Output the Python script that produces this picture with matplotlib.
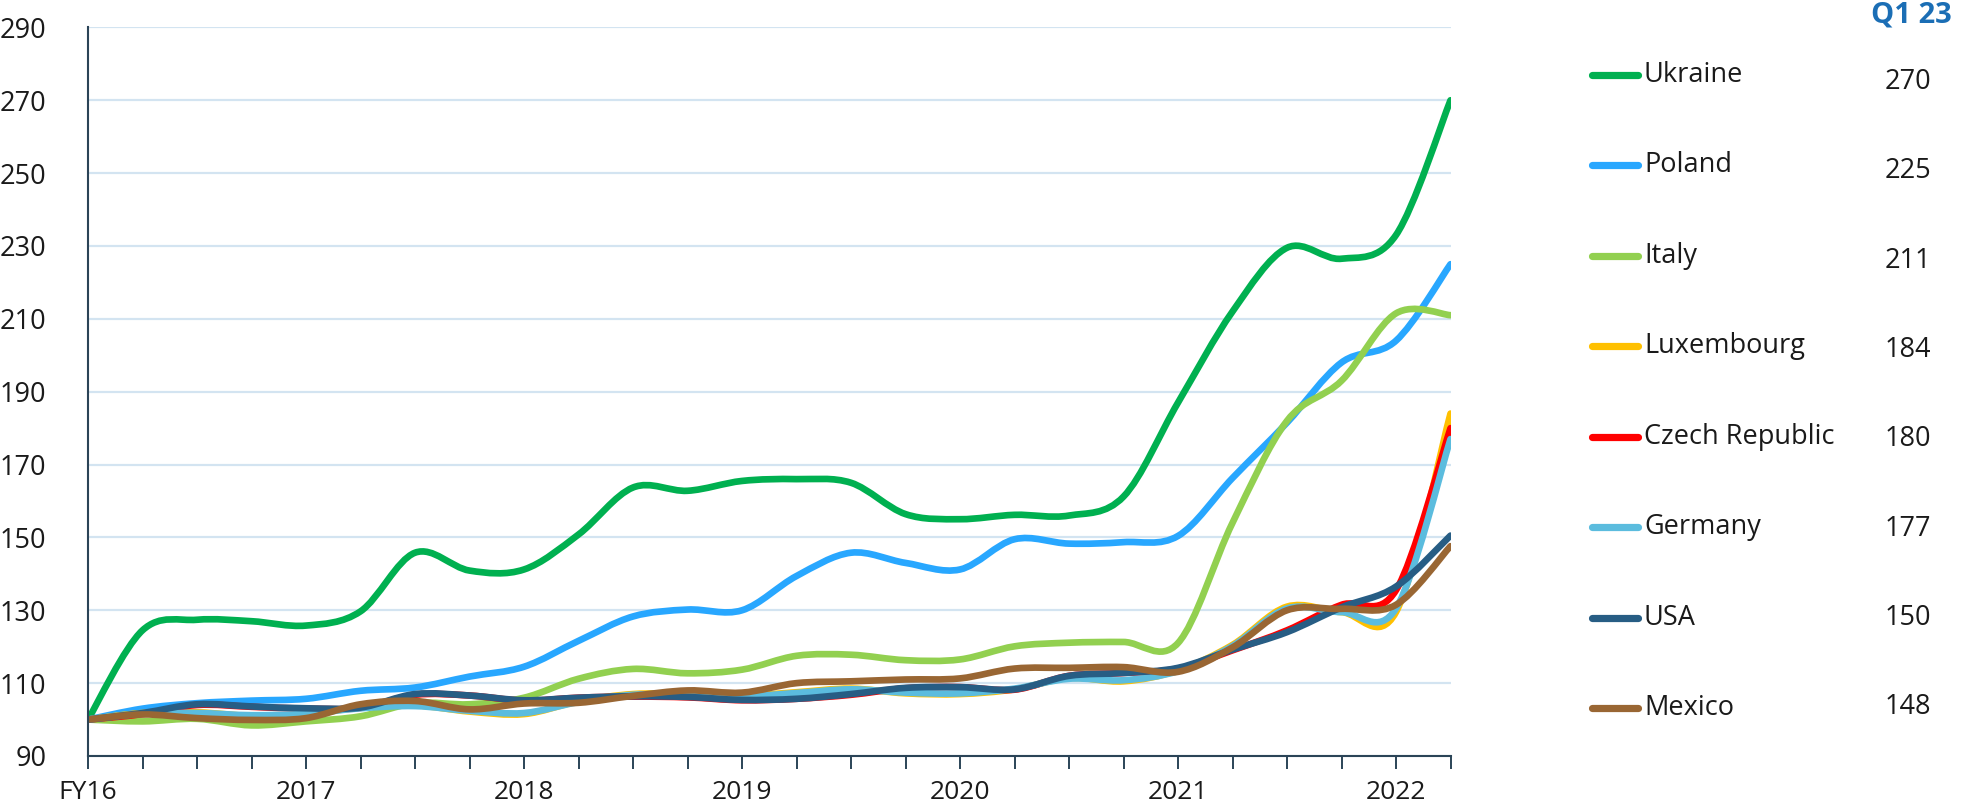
import matplotlib.pyplot as plt
import numpy as np
from matplotlib.path import Path
from matplotlib.patches import PathPatch
from matplotlib.lines import Line2D

plt.rcParams['font.family'] = ['Open Sans', 'DejaVu Sans']

# Dados (trimestres, FY16 = 100)
x_labels = ['FY16', '2017', '2018', '2019', '2020', '2021', '2022']
countries = ['Ukraine', 'Poland', 'Italy', 'Luxembourg', 'Czech Republic', 'Germany', 'USA', 'Mexico']
last_values = ['270', '225', '211', '184', '180', '177', '150', '148']
colors = ['#00b050', '#28a7ff', '#92d050', '#ffc000', '#ff0000', '#5bbcde', '#275d84', '#996633']

ukraine = [100, 124.5, 127.4, 127, 125.8, 129.7, 145.8, 140.9, 141.2, 150.8, 163.7, 162.8, 165.5,
           166, 165, 156.4, 155, 156.2, 156, 161.2, 187, 212, 229.5, 226.5, 233, 270]
poland = [100, 103, 104.5, 105.2, 105.7, 107.9, 108.8, 111.8, 114.5, 121.6, 128.3, 130.2, 130,
          139.4, 145.8, 143, 141.2, 149.5, 148.3, 148.7, 150.4, 166.3, 181.5, 198, 204, 225]
italy = [100, 99.5, 100.2, 98.4, 99.5, 100.9, 104.5, 104.2, 106, 111.2, 113.9, 112.7, 113.7,
         117.5, 117.8, 116.3, 116.5, 120.1, 121.1, 121.3, 121, 154, 182, 193, 211.5, 211]
luxembourg = [100, 101.8, 102, 101, 101.5, 103.3, 103.9, 102.2, 101.5, 105, 107, 107, 106.5,
              107.5, 108.5, 107.2, 107, 108.3, 111.4, 110.5, 113.5, 120.5, 131, 129.5, 129.5, 184]
czech = [100, 101.5, 104, 103.5, 103, 103.2, 106.8, 106.6, 105.2, 106, 106.3, 106.1, 105.3,
         105.7, 106.8, 108.6, 108.9, 108.2, 112, 112.8, 114, 119, 124.5, 131.5, 135.5, 180]
germany = [100, 101.6, 101.8, 101.2, 101.6, 103.1, 103.7, 102.4, 101.8, 104.8, 106.8, 106.8, 106.3,
           107.3, 108.3, 107.4, 107.2, 108.5, 111.2, 110.8, 113.3, 120.2, 130.5, 129.5, 130.5, 177]
usa = [100, 101.8, 104.2, 103.6, 103.1, 103.3, 107, 106.6, 105.3, 106, 106.4, 106.2, 105.4,
       105.7, 107, 108.7, 108.9, 108.3, 112, 112.8, 114.2, 119.2, 124, 130.8, 136.5, 150.5]
mexico = [100, 101.4, 100.4, 99.9, 100.4, 104.2, 105.1, 102.8, 104.4, 104.6, 106.5, 108, 107.4,
          110, 110.5, 111, 111.3, 114, 114.2, 114.4, 113.1, 119.8, 130, 130.4, 131.5, 147.6]

series = [ukraine, poland, italy, luxembourg, czech, germany, usa, mexico]


def smooth_path(y):
    # linha suavizada tipo Excel (Bezier com tangentes Catmull-Rom)
    y = np.asarray(y, dtype=float)
    x = np.arange(len(y), dtype=float)
    n = len(y)
    verts = [(x[0], y[0])]
    codes = [Path.MOVETO]
    for i in range(n - 1):
        y0 = y[i - 1] if i > 0 else y[i]
        y3 = y[i + 2] if i + 2 < n else y[i + 1]
        x0 = x[i - 1] if i > 0 else x[i]
        x3 = x[i + 2] if i + 2 < n else x[i + 1]
        c1 = (x[i] + (x[i + 1] - x0) / 6, y[i] + (y[i + 1] - y0) / 6)
        c2 = (x[i + 1] - (x3 - x[i]) / 6, y[i + 1] - (y3 - y[i]) / 6)
        verts += [c1, c2, (x[i + 1], y[i + 1])]
        codes += [Path.CURVE4] * 3
    return Path(verts, codes)


W, H = 1966, 809
fig = plt.figure(figsize=(W / 100, H / 100), dpi=100)
ax = fig.add_axes([88 / W, 1 - 756 / H, (1450.5 - 88) / W, (756 - 27.4) / H])

for vals, col in zip(series, colors):
    patch = PathPatch(smooth_path(vals), fill=False, edgecolor=col, lw=4.8,
                      capstyle='round', joinstyle='round', transform=ax.transData)
    ax.add_patch(patch)

n = len(ukraine)
ax.set_xlim(0, n - 1)
ax.set_ylim(90, 290)
ax.set_yticks(np.arange(90, 291, 20))
ax.set_xticks(np.arange(0, n, 4))
ax.set_xticklabels(x_labels)
ax.set_xticks(np.arange(0, n, 1), minor=True)

ax.grid(axis='y', color='#d3e4f1', lw=1.6)
ax.set_axisbelow(True)
for s in ['top', 'right']:
    ax.spines[s].set_visible(False)
for s in ['left', 'bottom']:
    ax.spines[s].set_color('#2b4457')
    ax.spines[s].set_linewidth(1.5)

ax.tick_params(axis='y', length=0, pad=30, labelsize=19.5, labelcolor='#1a1a1a')
ax.tick_params(axis='x', which='both', length=9, width=1.4, color='#2b4457',
               direction='out', pad=8, labelsize=19, labelcolor='#1a1a1a')

# legenda manual + valores Q1 23
for i, (name, val, col) in enumerate(zip(countries, last_values, colors)):
    yl = 75 + 90.45 * i
    fig.add_artist(Line2D([1592 / W, 1638 / W], [1 - yl / H, 1 - yl / H], color=col, lw=5.2,
                          solid_capstyle='round', transform=fig.transFigure))
    fig.text(1644 / W, 1 - yl / H, name, fontsize=19.5, color='#1a1a1a', va='center', ha='left')
    yv = 82 + 89.3 * i
    fig.text(1931 / W, 1 - yv / H, val, fontsize=19.5, color='#1a1a1a', va='center', ha='right')

fig.text(1952 / W, 1 - 15 / H, 'Q1 23', fontsize=21, fontweight='bold', color='#1b6eb5',
         va='center', ha='right')

fig.savefig('out.png', dpi=100, facecolor='white')
